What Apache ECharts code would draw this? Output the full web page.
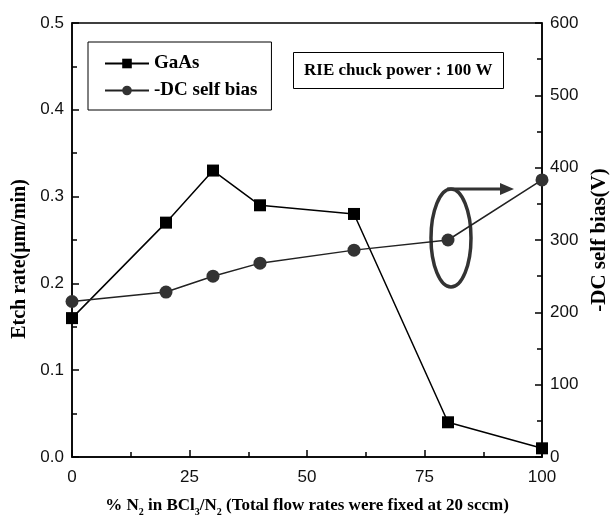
<!DOCTYPE html>
<html>
<head>
<meta charset="utf-8">
<script src="https://cdn.jsdelivr.net/npm/echarts@6/dist/echarts.min.js"></script>
<style>
  html, body { margin: 0; padding: 0; background: #fff; }
  #chart { width: 614px; height: 519px; }
</style>
</head>
<body>
<div id="chart"></div>
<script>
const n2Percent = [0, 20, 30, 40, 60, 80, 100]
const gaasEtch = [0.16, 0.27, 0.33, 0.29, 0.28, 0.04, 0.01]
const dcBias = [215, 228, 250, 268, 286, 300, 383]
const xTicks = [0, 25, 50, 75, 100]

const SERIF = '"Liberation Serif", "Times New Roman", serif'
const SANS = '"Liberation Sans", Arial, sans-serif'

const chart = echarts.init(document.getElementById('chart'))

const axisCommon = {
  axisLine: { show: true, lineStyle: { color: '#000', width: 1.5 } },
  axisTick: { show: true, inside: true, length: 7, lineStyle: { color: '#000', width: 1.5 } },
  minorTick: { show: true, splitNumber: 2, length: 5, lineStyle: { color: '#000', width: 1.5 } },
  splitLine: { show: false },
  axisLabel: { color: '#111', fontFamily: SANS, fontSize: 17 }
}

chart.setOption({
  backgroundColor: '#ffffff',
  animation: false,
  grid: {
    left: 72, right: 72, top: 23, bottom: 62,
    outerBoundsMode: 'none',
    show: true, borderColor: '#000', borderWidth: 1.5
  },
  title: {
    text: 'RIE chuck power : 100 W',
    left: 293,
    top: 52,
    padding: [10, 11, 10, 11],
    borderColor: '#000',
    borderWidth: 1,
    textStyle: { fontFamily: SERIF, fontWeight: 'bold', fontSize: 17, color: '#000' }
  },
  legend: {
    orient: 'vertical',
    left: 88,
    top: 42,
    padding: [12, 14, 10, 16],
    itemGap: 8,
    itemWidth: 44,
    itemHeight: 12,
    borderColor: '#000',
    borderWidth: 1,
    textStyle: { fontFamily: SERIF, fontWeight: 'bold', fontSize: 19, color: '#000' },
    data: ['GaAs', '-DC self bias']
  },
  xAxis: {
    type: 'value',
    min: 0,
    max: 100,
    interval: 25,
    ...axisCommon,
    axisLabel: { ...axisCommon.axisLabel, margin: 12 },
    name: '% N{s|2} in BCl{s|3}/N{s|2} (Total flow rates were fixed at 20 sccm)',
    nameLocation: 'middle',
    nameGap: 38,
    nameTextStyle: {
      fontFamily: SERIF, fontWeight: 'bold', fontSize: 17, color: '#000',
      rich: { s: { fontFamily: SERIF, fontWeight: 'bold', fontSize: 10, verticalAlign: 'bottom', padding: [12, 0, 0, 0] } }
    }
  },
  yAxis: [
    {
      type: 'value',
      min: 0,
      max: 0.5,
      interval: 0.1,
      ...axisCommon,
      axisLabel: { ...axisCommon.axisLabel, formatter: v => v.toFixed(1) },
      name: 'Etch rate(μm/min)',
      nameLocation: 'middle',
      nameRotate: 90,
      nameGap: 42,
      nameTextStyle: { fontFamily: SERIF, fontWeight: 'bold', fontSize: 20, color: '#000', padding: [0, 38, 0, 0] }
    },
    {
      type: 'value',
      min: 0,
      max: 600,
      interval: 100,
      position: 'right',
      ...axisCommon,
      name: '-DC self bias(V)',
      nameLocation: 'middle',
      nameRotate: 90,
      nameGap: 47,
      nameTextStyle: { fontFamily: SERIF, fontWeight: 'bold', fontSize: 21, color: '#000' }
    }
  ],
  series: [
    {
      name: 'GaAs',
      type: 'line',
      yAxisIndex: 0,
      data: n2Percent.map((x, i) => [x, gaasEtch[i]]),
      symbol: 'rect',
      symbolSize: 12,
      lineStyle: { color: '#000', width: 1.5 },
      itemStyle: { color: '#000' }
    },
    {
      name: '-DC self bias',
      type: 'line',
      yAxisIndex: 1,
      data: n2Percent.map((x, i) => [x, dcBias[i]]),
      symbol: 'circle',
      symbolSize: 13,
      lineStyle: { color: '#222', width: 1.5 },
      itemStyle: { color: '#333' }
    }
  ],
  graphic: [
    {
      type: 'ellipse',
      shape: { cx: 451, cy: 238, rx: 20, ry: 49 },
      style: { fill: 'none', stroke: '#333', lineWidth: 3.5 }
    },
    {
      type: 'line',
      shape: { x1: 447, y1: 189, x2: 505, y2: 189 },
      style: { stroke: '#333', lineWidth: 3 }
    },
    {
      type: 'polygon',
      shape: { points: [[500, 183], [514, 189], [500, 195]] },
      style: { fill: '#333' }
    }
  ]
})
</script>
</body>
</html>
